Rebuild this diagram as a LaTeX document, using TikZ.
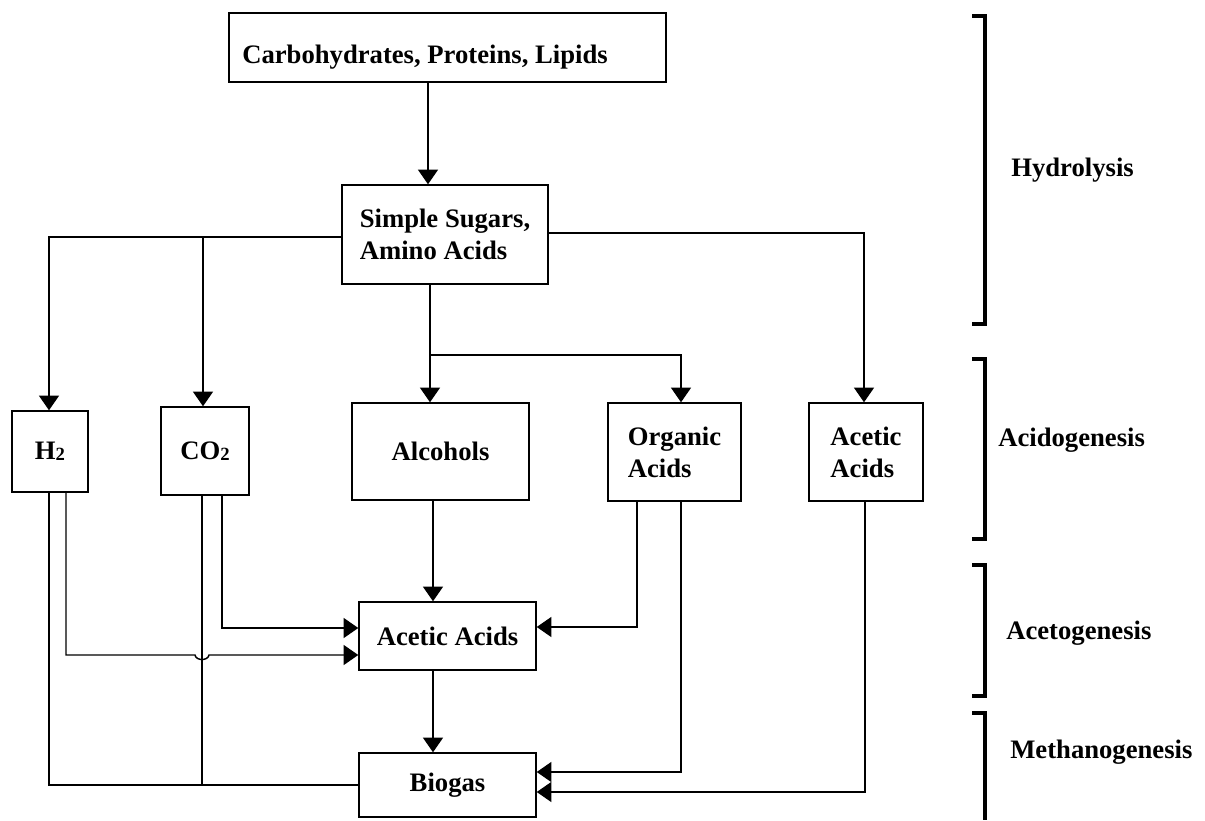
\documentclass[tikz,border=0pt]{standalone}
\usepackage{fontspec}
\setmainfont{Liberation Serif}
\usetikzlibrary{arrows.meta}
\tikzset{
  box/.style={draw, line width=1.1pt, rectangle, inner sep=0pt, font=\fontsize{20}{24}\selectfont\bfseries},
  lbl/.style={inner sep=0pt, font=\fontsize{20}{24}\selectfont\bfseries},
  conn/.style={line width=1.1pt},
  arr/.style={conn, -{Triangle[length=11pt,width=15pt]}},
  brk/.style={line width=3pt, line cap=butt},
}
\newcommand{\subtwo}{\raisebox{-0.05em}{\fontsize{14}{14}\selectfont 2}}
\begin{document}
\begin{tikzpicture}[x=0.75pt,y=-0.75pt]
\useasboundingbox (0,0) rectangle (1205,820);
% boxes
\node[box, minimum width=437*0.75pt, minimum height=69*0.75pt] (top) at (447.5,47.5) {};
\node[lbl, anchor=west] (toptext) at (242,57) {Carbohydrates, Proteins, Lipids};
\node[box, minimum width=206*0.75pt, minimum height=99*0.75pt, align=left] (ss) at (445,234.5) {Simple Sugars,\\Amino Acids};
\node[box, minimum width=76*0.75pt, minimum height=81*0.75pt] (h2) at (50,451.5) {H\subtwo};
\node[box, minimum width=88*0.75pt, minimum height=88*0.75pt] (co2) at (205,451) {CO\subtwo};
\node[box, minimum width=177*0.75pt, minimum height=97*0.75pt] (alc) at (440.5,451.5) {Alcohols};
\node[box, minimum width=133*0.75pt, minimum height=98*0.75pt, align=left] (org) at (674.5,452) {Organic\\Acids};
\node[box, minimum width=114*0.75pt, minimum height=98*0.75pt, align=left] (ac1) at (866,452) {Acetic\\Acids};
\node[box, minimum width=177*0.75pt, minimum height=68*0.75pt] (mid) at (447.5,636) {Acetic Acids};
\node[box, minimum width=177*0.75pt, minimum height=64*0.75pt] (bio) at (447.5,785) {Biogas};
% connectors
\draw[arr] (top.south -| 428,0) -- (ss.north -| 428,0);
\coordinate (jl) at (49,237);
\coordinate (jc) at (203,237);
\draw[arr] (ss.west |- jl) -- (jl) -- (h2.north -| jl);
\draw[arr] (jc) -- (co2.north -| jc);
\coordinate (jr) at (864,233);
\draw[arr] (ss.east |- jr) -- (jr) -- (ac1.north -| jr);
\coordinate (jm) at (430,355);
\coordinate (jo) at (681,355);
\draw[arr] (ss.south -| jm) -- (alc.north -| jm);
\draw[arr] (jm) -- (jo) -- (org.north -| jo);
% H2 outputs
\coordinate (hb) at (49,785);
\draw[conn] (h2.south -| hb) -- (hb) -- (bio.west |- hb);
\coordinate (ha) at (66,655);
\draw[arr] (h2.south -| ha) -- (ha) -- (195,655) .. controls (196,661) and (208,661) .. (209,655) -- (mid.west |- ha);
% CO2 outputs
\coordinate (cb) at (202,785);
\draw[conn] (co2.south -| cb) -- (cb);
\coordinate (ca) at (222,628);
\draw[arr] (co2.south -| ca) -- (ca) -- (mid.west |- ca);
% middle
\draw[arr] (alc.south -| 433,0) -- (mid.north -| 433,0);
\coordinate (oa) at (637,627);
\draw[arr] (org.south -| oa) -- (oa) -- (mid.east |- oa);
\coordinate (ob) at (681,772);
\draw[arr] (org.south -| ob) -- (ob) -- (bio.east |- ob);
\coordinate (ab) at (865,792);
\draw[arr] (ac1.south -| ab) -- (ab) -- (bio.east |- ab);
\draw[arr] (mid.south -| 433,0) -- (bio.north -| 433,0);
% brackets
\draw[brk] (972,16) -- (985,16) -- (985,324) -- (972,324);
\draw[brk] (972,359) -- (985,359) -- (985,539) -- (972,539);
\draw[brk] (972,565) -- (985,565) -- (985,696) -- (972,696);
\draw[brk] (972,713) -- (985,713) -- (985,820);
\node[lbl, anchor=west] (l1) at (1011,170) {Hydrolysis};
\node[lbl, anchor=west] (l2) at (998,440) {Acidogenesis};
\node[lbl, anchor=west] (l3) at (1006,633) {Acetogenesis};
\node[lbl, anchor=west] (l4) at (1010,752) {Methanogenesis};
\end{tikzpicture}
\end{document}
